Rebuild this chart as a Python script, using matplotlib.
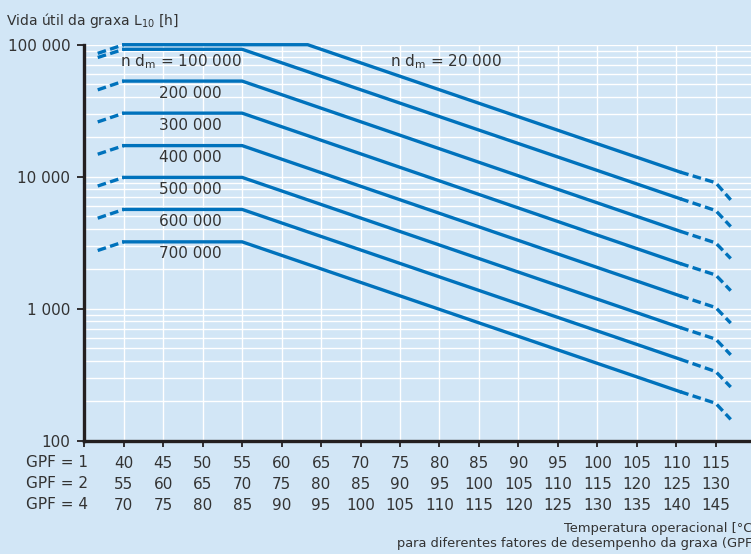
import numpy as np
import matplotlib
matplotlib.use("Agg")
import matplotlib.pyplot as plt
from matplotlib.ticker import FixedLocator, LogLocator, NullFormatter, FuncFormatter

# %% data
nd_m_labels = ["n d$_\\mathregular{m}$ = 20 000", "n d$_\\mathregular{m}$ = 100 000",
               "200 000", "300 000", "400 000", "500 000", "600 000", "700 000"]

# operating temperature knots (GPF = 1 scale, deg C)
temp_dash_start = 36.7
temp_plateau = 40
temp_knee = [63.3, 55, 55, 55, 55, 55, 55, 55]
temp_solid_end = 110.5
temp_dash_knee = 115
temp_dash_end = 116.9

# grease life L10 [h] at those knots
life_start = [86000, 80000, 45500, 26000, 14800, 8500, 4850, 2760]
life_plateau = [100000, 92300, 53000, 30300, 17200, 9880, 5650, 3210]
life_solid_end = [10840, 6810, 3860, 2200, 1250, 720, 414, 235]
life_dash_knee = [9000, 5540, 3150, 1800, 1020, 588, 334, 192]
life_dash_end = [6680, 4190, 2400, 1370, 778, 447, 255, 145]

# x tick rows for the three grease performance factors
gpf_rows = ["GPF = 1", "GPF = 2", "GPF = 4"]
temp_gpf1 = [40, 45, 50, 55, 60, 65, 70, 75, 80, 85, 90, 95, 100, 105, 110, 115]
temp_gpf2 = [55, 60, 65, 70, 75, 80, 85, 90, 95, 100, 105, 110, 115, 120, 125, 130]
temp_gpf4 = [70, 75, 80, 85, 90, 95, 100, 105, 110, 115, 120, 125, 130, 135, 140, 145]

# %% styling
bg = "#d2e6f6"
blue = "#0072bc"
txt = "#333333"
plt.rcParams["font.family"] = ["DejaVu Sans"]

W, H = 751, 554
fig = plt.figure(figsize=(W / 100, H / 100), dpi=100, facecolor=bg)
ax = fig.add_axes([84.3 / W, 1 - 440.7 / H, 1 - 84.3 / W, (440.7 - 44.7) / H])
ax.set_facecolor(bg)
ax.set_yscale("log")
ax.set_xlim(35, 119.47)
ax.set_ylim(100, 100000)

# grid
ax.set_axisbelow(True)
ax.yaxis.set_minor_locator(LogLocator(base=10, subs=np.arange(2, 10)))
ax.yaxis.set_minor_formatter(NullFormatter())
ax.grid(which="both", axis="y", color="white", lw=1.0)
ax.xaxis.set_major_locator(FixedLocator([35] + temp_gpf1 + [120]))
ax.grid(which="major", axis="x", color="white", lw=1.0)

# curves
for i in range(len(life_plateau)):
    # dashed lead-in
    ax.plot([temp_dash_start, temp_plateau], [life_start[i], life_plateau[i]],
            color=blue, lw=2.4, dashes=(2.6, 1.3), solid_capstyle="butt",
            clip_on=False, zorder=3)
    # solid plateau + decline
    ax.plot([temp_plateau, temp_knee[i], temp_solid_end],
            [life_plateau[i], life_plateau[i], life_solid_end[i]],
            color=blue, lw=2.4, solid_joinstyle="miter", clip_on=False, zorder=3)
    # dashed tail
    ax.plot([temp_solid_end, temp_dash_knee, temp_dash_end],
            [life_solid_end[i], life_dash_knee[i], life_dash_end[i]],
            color=blue, lw=2.4, dashes=(2.6, 1.3), clip_on=False, zorder=3)

# curve labels
ax.text(73.7, 73800, nd_m_labels[0], fontsize=11, color=txt, va="center")
ax.text(39.5, life_plateau[1] / 1.234, nd_m_labels[1], fontsize=11, color=txt, va="center")
for i in range(2, len(life_plateau)):
    ax.text(44.5, life_plateau[i] / 1.234, nd_m_labels[i], fontsize=11, color=txt, va="center")

# axes styling
for s in ["top", "right"]:
    ax.spines[s].set_visible(False)
for s in ["left", "bottom"]:
    ax.spines[s].set_color("#231f20")
    ax.spines[s].set_linewidth(2.4)

ax.yaxis.set_major_locator(FixedLocator([100, 1000, 10000, 100000]))
ax.yaxis.set_major_formatter(FuncFormatter(lambda v, p: f"{int(v):,}".replace(",", " ")))
ax.tick_params(axis="y", which="major", length=5, width=1.3, pad=5,
               labelsize=11, labelcolor=txt, color="#231f20")
ax.tick_params(axis="y", which="minor", length=0)

xlabels = [""] + [f"{a}\n{b}\n{c}" for a, b, c in zip(temp_gpf1, temp_gpf2, temp_gpf4)] + [""]
ax.set_xticklabels(xlabels, linespacing=1.5)
ax.tick_params(axis="x", length=4.5, width=1.3, pad=6.5, labelsize=11,
               labelcolor=txt, color="#231f20")

ax.annotate("\n".join(gpf_rows), xy=(0, 0), xycoords="axes fraction",
            xytext=(3.7, -14.5), textcoords="offset pixels", ha="right", va="top",
            fontsize=11, color=txt, linespacing=1.5, annotation_clip=False)

# axis titles
fig.text(6 / W, 1 - 20 / H, "Vida útil da graxa L$_\\mathregular{10}$ [h]",
         fontsize=10, color=txt, va="center", ha="left")
fig.text(757 / W, 1 - 536 / H,
         "Temperatura operacional [°C]\npara diferentes fatores de desempenho da graxa (GPF)",
         fontsize=9.4, color=txt, ha="right", va="center", multialignment="right",
         linespacing=1.25)

fig.savefig("out.png", dpi=100, facecolor=bg)
